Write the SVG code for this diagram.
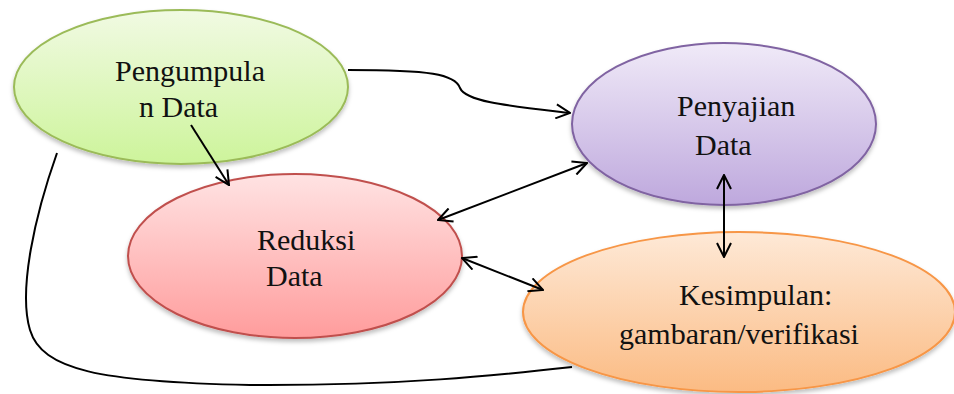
<svg xmlns="http://www.w3.org/2000/svg" width="954" height="394" viewBox="0 0 954 394">
<style>
.lbl{font-family:'Liberation Serif','Times New Roman',Times,'DejaVu Serif','Noto Serif',serif;font-size:30px;fill:#111}
.conn{fill:none;stroke:#000;stroke-width:2}
.node{stroke-width:2;filter:url(#sh)}
</style>
<defs>
<filter id="sh" x="-10%" y="-10%" width="120%" height="130%">
<feDropShadow dx="0" dy="3" stdDeviation="2" flood-color="#000" flood-opacity="0.25"/>
</filter>
<linearGradient id="gG" x1="0" y1="0" x2="0" y2="1"><stop offset="0" stop-color="#f1fae3"/><stop offset="1" stop-color="#cdf49b"/></linearGradient>
<linearGradient id="gP" x1="0" y1="0" x2="0" y2="1"><stop offset="0" stop-color="#f0eaf8"/><stop offset="1" stop-color="#bea8dd"/></linearGradient>
<linearGradient id="gR" x1="0" y1="0" x2="0" y2="1"><stop offset="0" stop-color="#ffe3e3"/><stop offset="1" stop-color="#ff9c9c"/></linearGradient>
<linearGradient id="gO" x1="0" y1="0" x2="0" y2="1"><stop offset="0" stop-color="#fee9d7"/><stop offset="1" stop-color="#fbbb83"/></linearGradient>
<marker id="ah" viewBox="0 0 16 16" refX="15" refY="8" markerWidth="16" markerHeight="16" markerUnits="userSpaceOnUse" orient="auto-start-reverse">
<path d="M1,1 L15,8 L1,15" fill="none" stroke="#000" stroke-width="2"/>
</marker>
</defs>
<g id="pengumpulan">
<ellipse class="node" cx="181" cy="87" rx="167" ry="77" fill="url(#gG)" stroke="#9bbb59"/>
<text class="lbl" font-family="Liberation Serif, serif" x="115" y="81">Pengumpula</text>
<text class="lbl" font-family="Liberation Serif, serif" x="139" y="117">n Data</text>
</g>
<g id="penyajian">
<ellipse class="node" cx="724" cy="124" rx="152" ry="81" fill="url(#gP)" stroke="#8064a2"/>
<text class="lbl" font-family="Liberation Serif, serif" x="677" y="116">Penyajian</text>
<text class="lbl" font-family="Liberation Serif, serif" x="695" y="155">Data</text>
</g>
<g id="reduksi">
<ellipse class="node" cx="295" cy="256" rx="167" ry="82" fill="url(#gR)" stroke="#c0504d"/>
<text class="lbl" font-family="Liberation Serif, serif" x="257" y="250">Reduksi</text>
<text class="lbl" font-family="Liberation Serif, serif" x="266" y="286">Data</text>
</g>
<g id="kesimpulan">
<ellipse class="node" cx="739" cy="312" rx="216" ry="80" fill="url(#gO)" stroke="#f79646"/>
<text class="lbl" font-family="Liberation Serif, serif" x="679" y="305">Kesimpulan:</text>
<text class="lbl" font-family="Liberation Serif, serif" x="619" y="344">gambaran/verifikasi</text>
</g>
<g id="connectors">
<path class="conn" d="M348,70 C430,70 455,74 460,88 C466,102 510,106 570,113" marker-end="url(#ah)"/>
<path class="conn" d="M191,125 L229,185" marker-end="url(#ah)"/>
<path class="conn" d="M438,220 L587,163" marker-start="url(#ah)" marker-end="url(#ah)"/>
<path class="conn" d="M462,258 L543,290" marker-start="url(#ah)" marker-end="url(#ah)"/>
<path class="conn" d="M724,175 L724,257" marker-start="url(#ah)" marker-end="url(#ah)"/>
<path class="conn" d="M57,153 C35,215 18,290 30,330 C42,370 100,382 250,385 C400,386 500,375 572,367"/>
</g>
</svg>
